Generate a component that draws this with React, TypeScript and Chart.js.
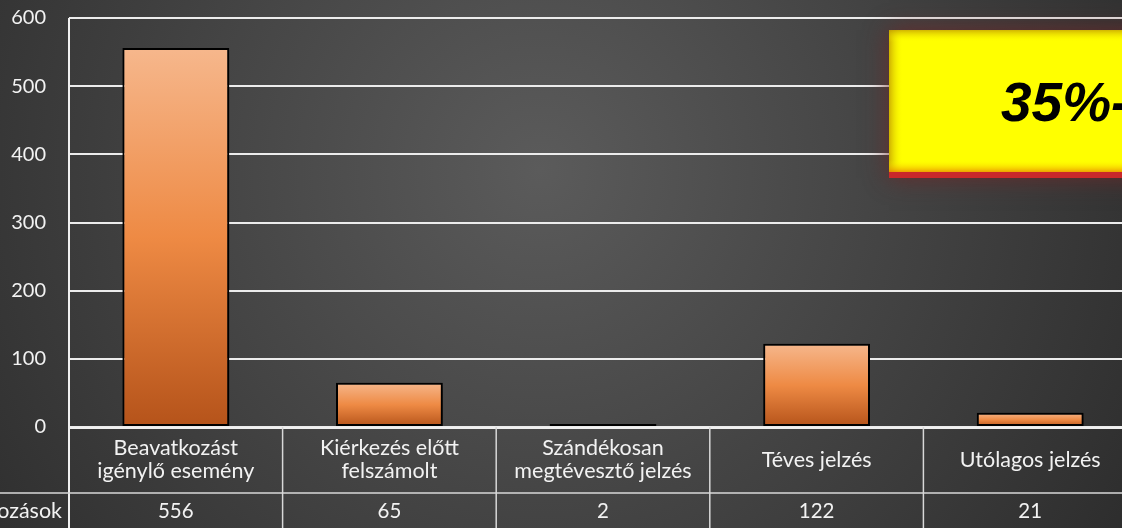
import React, { useEffect, useRef } from "react";
import { Chart, registerables } from "chart.js";

Chart.register(...registerables);

const categories: string[][] = [
  ["Beavatkozást", "igénylő esemény"],
  ["Kiérkezés előtt", "felszámolt"],
  ["Szándékosan", "megtévesztő jelzés"],
  ["Téves jelzés"],
  ["Utólagos jelzés"],
];
const values: number[] = [556, 65, 2, 122, 21];
const seriesName = "Beavatkozások";
const yMin = 0;
const yMax = 600;
const yStep = 100;
const calloutText = "35%-";

const OFFSET_X = 100;
const CANVAS_W = 1260;
const CANVAS_H = 528;
const FONT = "Lato, 'Noto Sans', sans-serif";
const TEXT_COLOR = "#f2f2f2";

const tablePlugin = {
  id: "tableAndDecor",
  beforeDraw(chart: any) {
    const { ctx, width, height } = chart;
    ctx.save();
    const g = ctx.createRadialGradient(640, 170, 0, 640, 170, 720);
    g.addColorStop(0, "#5b5b5b");
    g.addColorStop(1, "#2b2b2b");
    ctx.fillStyle = g;
    ctx.fillRect(0, 0, width, height);
    ctx.restore();
  },
  beforeDatasetsDraw(chart: any) {
    const ctx = chart.ctx;
    ctx.save();
    ctx.shadowColor = "rgba(0,0,0,0.55)";
    ctx.shadowBlur = 6;
    ctx.shadowOffsetX = 3;
    ctx.shadowOffsetY = 2;
  },
  afterDatasetsDraw(chart: any) {
    const ctx = chart.ctx;
    ctx.restore();
    const { chartArea, scales } = chart;
    const x = scales.x;
    const n = categories.length;
    const w = chartArea.width / n;
    const axisY = scales.y.getPixelForValue(0);
    const rowY = axisY + 66;
    ctx.save();
    ctx.strokeStyle = "#f0f0f0";
    ctx.lineWidth = 2;
    ctx.beginPath();
    ctx.moveTo(chartArea.left, axisY + 1);
    ctx.lineTo(chart.width, axisY + 1);
    ctx.stroke();
    ctx.beginPath();
    ctx.moveTo(chartArea.left, chartArea.top);
    ctx.lineTo(chartArea.left, chart.height);
    ctx.stroke();
    ctx.strokeStyle = "#d8d8d8";
    ctx.lineWidth = 1.5;
    for (let i = 1; i < n; i++) {
      const bx = x.getPixelForValue(i) - w / 2;
      ctx.beginPath();
      ctx.moveTo(bx, axisY);
      ctx.lineTo(bx, chart.height);
      ctx.stroke();
    }
    ctx.beginPath();
    ctx.moveTo(0, rowY);
    ctx.lineTo(chart.width, rowY);
    ctx.stroke();
    ctx.fillStyle = TEXT_COLOR;
    ctx.font = `21.5px ${FONT}`;
    ctx.textAlign = "center";
    ctx.textBaseline = "middle";
    const lh = 23;
    const headerMid = (axisY + rowY) / 2;
    categories.forEach((lines, i) => {
      const cx = x.getPixelForValue(i);
      const y0 = headerMid - ((lines.length - 1) * lh) / 2;
      lines.forEach((t, j) => ctx.fillText(t, cx, y0 + j * lh));
    });
    ctx.font = `20.5px ${FONT}`;
    values.forEach((v, i) => {
      ctx.fillText(String(v), x.getPixelForValue(i), rowY + 18);
    });
    ctx.font = `21.5px ${FONT}`;
    ctx.textAlign = "right";
    ctx.fillText(seriesName, chartArea.left - 7, rowY + 18);
    ctx.restore();
  },
  afterDraw(chart: any) {
    const ctx = chart.ctx;
    const bx = 889 + OFFSET_X;
    const by = 30;
    const bw = 400;
    const bh = 142;
    ctx.save();
    ctx.shadowColor = "rgba(110,40,40,0.85)";
    ctx.shadowBlur = 22;
    ctx.fillStyle = "#c9282b";
    ctx.fillRect(bx, by, bw, bh + 6);
    ctx.restore();
    ctx.save();
    ctx.fillStyle = "#ffff00";
    ctx.fillRect(bx, by, bw, bh);
    let g = ctx.createLinearGradient(bx, 0, bx + 14, 0);
    g.addColorStop(0, "rgba(190,150,0,0.75)");
    g.addColorStop(1, "rgba(255,255,0,0)");
    ctx.fillStyle = g;
    ctx.fillRect(bx, by, 14, bh);
    g = ctx.createLinearGradient(0, by, 0, by + 12);
    g.addColorStop(0, "rgba(190,150,0,0.7)");
    g.addColorStop(1, "rgba(255,255,0,0)");
    ctx.fillStyle = g;
    ctx.fillRect(bx, by, bw, 12);
    g = ctx.createLinearGradient(0, by + bh, 0, by + bh - 12);
    g.addColorStop(0, "rgba(230,130,0,0.75)");
    g.addColorStop(1, "rgba(255,255,0,0)");
    ctx.fillStyle = g;
    ctx.fillRect(bx, by + bh - 12, bw, 12);
    ctx.fillStyle = "#000";
    ctx.font = `italic bold 55px 'Liberation Sans', Arial, sans-serif`;
    ctx.textAlign = "left";
    ctx.textBaseline = "alphabetic";
    ctx.fillText(calloutText, 1001 + OFFSET_X, 121);
    ctx.restore();
  },
};

function barGradient(context: any) {
  const chart = context.chart;
  const { chartArea, scales } = chart;
  if (!chartArea || !scales || !scales.y) return "#ed7d31";
  const v = context.raw as number;
  const top = scales.y.getPixelForValue(v);
  const bottom = scales.y.getPixelForValue(0);
  if (!isFinite(top) || !isFinite(bottom) || bottom - top < 1) return "#f09050";
  const g = chart.ctx.createLinearGradient(0, top, 0, bottom);
  g.addColorStop(0, "#f6b78c");
  g.addColorStop(0.5, "#ee8a44");
  g.addColorStop(1, "#b5531a");
  return g;
}

export default function App() {
  const ref = useRef<HTMLCanvasElement | null>(null);
  useEffect(() => {
    if (!ref.current) return;
    const chart = new Chart(ref.current, {
      type: "bar",
      data: {
        labels: categories.map((c) => c.join(" ")),
        datasets: [
          {
            label: seriesName,
            data: values,
            backgroundColor: barGradient,
            borderColor: "#000000",
            borderWidth: 2,
            borderSkipped: false,
            barPercentage: 0.5,
            categoryPercentage: 1,
            minBarLength: 3,
          },
        ],
      },
      plugins: [tablePlugin],
      options: {
        animation: false,
        responsive: false,
        layout: { padding: { left: 0, right: 23, top: 18, bottom: 101 } },
        plugins: { legend: { display: false }, tooltip: { enabled: false } },
        scales: {
          x: { display: false, offset: true },
          y: {
            min: yMin,
            max: yMax,
            afterFit: (s: any) => {
              s.width = 69 + OFFSET_X;
              s.paddingTop = 0;
              s.paddingBottom = 0;
            },
            ticks: {
              stepSize: yStep,
              color: TEXT_COLOR,
              padding: 23,
              font: { family: FONT, size: 20 },
            },
            grid: { color: "#ececec", lineWidth: 2, drawTicks: false },
            border: { display: false },
          },
        },
      },
    } as any);
    return () => chart.destroy();
  }, []);
  return (
    <div style={{ position: "fixed", left: 0, top: 0, width: 1122, height: 528, overflow: "hidden", background: "#333" }}>
      <div style={{ position: "absolute", left: -OFFSET_X, top: 0, width: CANVAS_W, height: CANVAS_H }}>
        <canvas ref={ref} width={CANVAS_W} height={CANVAS_H} style={{ width: CANVAS_W, height: CANVAS_H, display: "block" }} />
      </div>
    </div>
  );
}
